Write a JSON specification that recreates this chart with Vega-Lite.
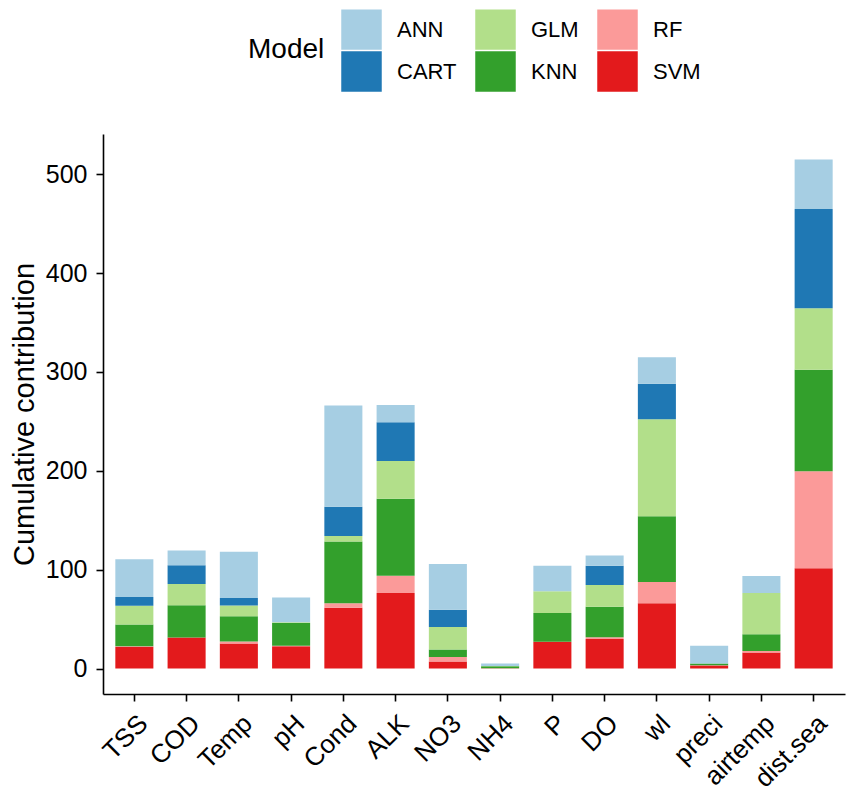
{
  "$schema": "https://vega.github.io/schema/vega-lite/v6.json",
  "width": 742,
  "height": 560,
  "autosize": {"type": "none"},
  "padding": {"left": 103, "top": 134, "right": 6, "bottom": 108},
  "background": "white",
  "config": {
    "view": {"stroke": null},
    "font": "Liberation Sans",
    "axis": {
      "domainColor": "black",
      "domainWidth": 1.6,
      "tickColor": "black",
      "tickWidth": 1.6,
      "tickSize": 7,
      "labelColor": "black",
      "labelFontSize": 25,
      "titleColor": "black",
      "titleFontSize": 29,
      "titleFontWeight": "normal",
      "grid": false
    }
  },
  "data": {
    "values": [
      {"Variable": "TSS", "Model": "SVM", "Contribution": 22},
      {"Variable": "TSS", "Model": "RF", "Contribution": 0.5},
      {"Variable": "TSS", "Model": "KNN", "Contribution": 22},
      {"Variable": "TSS", "Model": "GLM", "Contribution": 19},
      {"Variable": "TSS", "Model": "CART", "Contribution": 9},
      {"Variable": "TSS", "Model": "ANN", "Contribution": 38},
      {"Variable": "COD", "Model": "SVM", "Contribution": 31.5},
      {"Variable": "COD", "Model": "KNN", "Contribution": 32.5},
      {"Variable": "COD", "Model": "GLM", "Contribution": 21.5},
      {"Variable": "COD", "Model": "CART", "Contribution": 19},
      {"Variable": "COD", "Model": "ANN", "Contribution": 15},
      {"Variable": "Temp", "Model": "SVM", "Contribution": 25.3},
      {"Variable": "Temp", "Model": "RF", "Contribution": 2},
      {"Variable": "Temp", "Model": "KNN", "Contribution": 25.6},
      {"Variable": "Temp", "Model": "GLM", "Contribution": 11},
      {"Variable": "Temp", "Model": "CART", "Contribution": 7.4},
      {"Variable": "Temp", "Model": "ANN", "Contribution": 46.8},
      {"Variable": "pH", "Model": "SVM", "Contribution": 22.5},
      {"Variable": "pH", "Model": "RF", "Contribution": 0.5},
      {"Variable": "pH", "Model": "KNN", "Contribution": 23},
      {"Variable": "pH", "Model": "GLM", "Contribution": 0.8},
      {"Variable": "pH", "Model": "ANN", "Contribution": 25},
      {"Variable": "Cond", "Model": "SVM", "Contribution": 61.6},
      {"Variable": "Cond", "Model": "RF", "Contribution": 4.4},
      {"Variable": "Cond", "Model": "KNN", "Contribution": 62.6},
      {"Variable": "Cond", "Model": "GLM", "Contribution": 5.4},
      {"Variable": "Cond", "Model": "CART", "Contribution": 29.6},
      {"Variable": "Cond", "Model": "ANN", "Contribution": 102.4},
      {"Variable": "ALK", "Model": "SVM", "Contribution": 76.4},
      {"Variable": "ALK", "Model": "RF", "Contribution": 17.5},
      {"Variable": "ALK", "Model": "KNN", "Contribution": 77.8},
      {"Variable": "ALK", "Model": "GLM", "Contribution": 38.3},
      {"Variable": "ALK", "Model": "CART", "Contribution": 39.2},
      {"Variable": "ALK", "Model": "ANN", "Contribution": 17.5},
      {"Variable": "NO3", "Model": "SVM", "Contribution": 7.1},
      {"Variable": "NO3", "Model": "RF", "Contribution": 4.7},
      {"Variable": "NO3", "Model": "KNN", "Contribution": 7.4},
      {"Variable": "NO3", "Model": "GLM", "Contribution": 22.9},
      {"Variable": "NO3", "Model": "CART", "Contribution": 17.5},
      {"Variable": "NO3", "Model": "ANN", "Contribution": 46.1},
      {"Variable": "NH4", "Model": "SVM", "Contribution": 0.3},
      {"Variable": "NH4", "Model": "KNN", "Contribution": 2},
      {"Variable": "NH4", "Model": "GLM", "Contribution": 0.3},
      {"Variable": "NH4", "Model": "ANN", "Contribution": 2.5},
      {"Variable": "P", "Model": "SVM", "Contribution": 27},
      {"Variable": "P", "Model": "KNN", "Contribution": 29.2},
      {"Variable": "P", "Model": "GLM", "Contribution": 21.9},
      {"Variable": "P", "Model": "ANN", "Contribution": 25.8},
      {"Variable": "DO", "Model": "SVM", "Contribution": 29.9},
      {"Variable": "DO", "Model": "RF", "Contribution": 1.7},
      {"Variable": "DO", "Model": "KNN", "Contribution": 31},
      {"Variable": "DO", "Model": "GLM", "Contribution": 21.9},
      {"Variable": "DO", "Model": "CART", "Contribution": 19.5},
      {"Variable": "DO", "Model": "ANN", "Contribution": 10.4},
      {"Variable": "wl", "Model": "SVM", "Contribution": 66.1},
      {"Variable": "wl", "Model": "RF", "Contribution": 21.5},
      {"Variable": "wl", "Model": "KNN", "Contribution": 66.4},
      {"Variable": "wl", "Model": "GLM", "Contribution": 98.1},
      {"Variable": "wl", "Model": "CART", "Contribution": 36.1},
      {"Variable": "wl", "Model": "ANN", "Contribution": 26.8},
      {"Variable": "preci", "Model": "SVM", "Contribution": 3},
      {"Variable": "preci", "Model": "RF", "Contribution": 0.3},
      {"Variable": "preci", "Model": "KNN", "Contribution": 1.8},
      {"Variable": "preci", "Model": "ANN", "Contribution": 18},
      {"Variable": "airtemp", "Model": "SVM", "Contribution": 16.3},
      {"Variable": "airtemp", "Model": "RF", "Contribution": 1.4},
      {"Variable": "airtemp", "Model": "KNN", "Contribution": 17.1},
      {"Variable": "airtemp", "Model": "GLM", "Contribution": 41.7},
      {"Variable": "airtemp", "Model": "ANN", "Contribution": 17},
      {"Variable": "dist.sea", "Model": "SVM", "Contribution": 101.5},
      {"Variable": "dist.sea", "Model": "RF", "Contribution": 98.1},
      {"Variable": "dist.sea", "Model": "KNN", "Contribution": 102.6},
      {"Variable": "dist.sea", "Model": "GLM", "Contribution": 62.2},
      {"Variable": "dist.sea", "Model": "CART", "Contribution": 100.5},
      {"Variable": "dist.sea", "Model": "ANN", "Contribution": 50.1}
    ]
  },
  "mark": {"type": "bar"},
  "encoding": {
    "x": {
      "field": "Variable",
      "type": "nominal",
      "sort": ["TSS", "COD", "Temp", "pH", "Cond", "ALK", "NO3", "NH4", "P", "DO", "wl", "preci", "airtemp", "dist.sea"],
      "scale": {"paddingInner": 0.272, "paddingOuter": 0.236},
      "axis": {"title": null, "labelAngle": -45, "labelPadding": 9, "labelFontSize": 26}
    },
    "y": {
      "field": "Contribution",
      "type": "quantitative",
      "stack": "zero",
      "scale": {"domain": [-25.75, 540.75], "nice": false, "zero": false},
      "axis": {"title": "Cumulative contribution", "values": [0, 100, 200, 300, 400, 500], "titlePadding": 6, "labelPadding": 9}
    },
    "color": {
      "field": "Model",
      "type": "nominal",
      "scale": {
        "domain": ["ANN", "GLM", "RF", "CART", "KNN", "SVM"],
        "range": ["#A6CEE3", "#B2DF8A", "#FB9A99", "#1F78B4", "#33A02C", "#E31A1C"]
      },
      "legend": {
        "orient": "none",
        "legendX": 145,
        "legendY": -125,
        "direction": "horizontal",
        "columns": 3,
        "titleOrient": "left",
        "titleFontSize": 28,
        "titleFontWeight": "normal",
        "titleColor": "black",
        "titlePadding": 16,
        "labelFontSize": 22,
        "labelColor": "black",
        "labelOffset": 15,
        "symbolType": "square",
        "symbolSize": 1640,
        "symbolStrokeWidth": 0,
        "symbolOpacity": 1,
        "rowPadding": 1,
        "columnPadding": 18
      }
    },
    "order": {"field": "Model", "sort": "descending"}
  }
}
